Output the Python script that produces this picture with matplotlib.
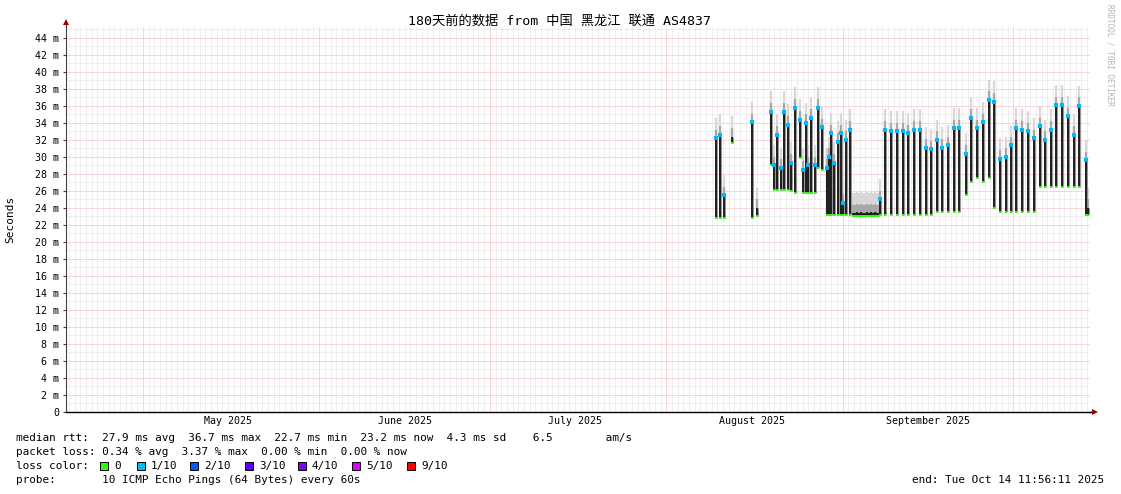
import matplotlib
matplotlib.use("Agg")
import matplotlib.pyplot as plt
import matplotlib.dates as mdates
import matplotlib.transforms as mtransforms
from matplotlib.patches import Rectangle
from datetime import datetime, timedelta

W, H = 1121, 494
MONO = ["DejaVu Sans Mono", "Noto Sans CJK SC"]

title = "180天前的数据 from 中国 黑龙江 联通 AS4837"
start = datetime(2025, 4, 17, 11, 56, 11)
end = datetime(2025, 10, 14, 11, 56, 11)
aug1 = datetime(2025, 8, 1)

# daily swings of the median rtt: days after Aug 1, high and low (ms)
bar_day = [8.8, 9.5, 10.2, 11.6, 15.1, 16.0,
           18.5, 19.0, 19.5, 20.2, 20.7, 21.4, 22.0, 22.7, 23.6, 24.1, 24.6, 25.0,
           25.5, 26.2, 26.7, 27.4, 28.3, 28.6, 29.0, 29.5, 30.2, 30.8, 31.1, 31.6, 32.3,
           32.75, 33.0, 33.25, 33.5, 33.75, 34.0, 34.25, 34.5, 34.75, 35.0, 35.25,
           35.5, 35.75, 36.0, 36.25, 36.5, 36.75, 37.0, 37.25, 37.5,
           38.5, 39.5, 40.6, 41.6, 42.5, 43.6, 44.6, 45.7, 46.6, 47.6, 48.5, 49.6,
           50.6, 51.5, 52.7, 53.6, 54.7, 55.7, 56.8, 57.6, 58.7, 59.8, 60.6, 61.5,
           62.6, 63.6, 64.7, 65.7, 66.6, 67.7, 68.5, 69.6, 70.7, 71.7, 72.6, 73.8, 74.2]
bar_hi = [32.2, 32.6, 25.5, 32.4, 34.1, 24.0,
          35.3, 29.0, 32.6, 28.7, 35.3, 33.8, 29.3, 35.8, 34.4, 28.5, 34.0, 29.0,
          34.6, 29.0, 35.8, 33.5, 28.7, 30.0, 32.8, 29.3, 31.8, 32.8, 24.6, 32.0, 33.2,
          23.4, 23.4, 23.4, 23.5, 23.4, 23.4, 23.5, 23.4, 23.4, 23.4, 23.5,
          23.4, 23.4, 23.5, 23.4, 23.4, 23.5, 23.4, 23.4, 25.0,
          33.2, 33.0, 33.0, 33.0, 32.8, 33.2, 33.2, 31.1, 30.9, 32.0, 31.1, 31.4,
          33.4, 33.4, 30.4, 34.6, 33.4, 34.1, 36.7, 36.5, 29.8, 30.0, 31.4, 33.4,
          33.2, 33.0, 32.2, 33.6, 32.0, 33.2, 36.1, 36.1, 34.8, 32.6, 36.0, 29.6, 24.0]
bar_lo = [22.8, 22.8, 22.8, 31.6, 22.8, 23.0,
          29.0, 26.1, 26.1, 26.1, 26.1, 26.1, 26.0, 25.8, 29.9, 25.8, 25.8, 25.8,
          25.8, 25.8, 28.7, 28.5, 23.2, 23.2, 23.2, 23.2, 23.2, 23.2, 23.2, 23.2, 23.2,
          23.1, 23.1, 23.1, 23.1, 23.1, 23.1, 23.1, 23.1, 23.1, 23.1, 23.1,
          23.1, 23.1, 23.1, 23.1, 23.1, 23.1, 23.1, 23.1, 23.2,
          23.2, 23.2, 23.2, 23.2, 23.2, 23.2, 23.2, 23.2, 23.2, 23.5, 23.5, 23.5,
          23.5, 23.5, 25.5, 27.0, 27.5, 27.0, 27.5, 24.0, 23.5, 23.5, 23.5, 23.5,
          23.5, 23.5, 23.5, 26.5, 26.5, 26.5, 26.5, 26.5, 26.5, 26.5, 26.5, 23.2, 23.2]

month_labels = ["May 2025", "June 2025", "July 2025", "August 2025", "September 2025"]
month_label_at = [datetime(2025, m, 16) for m in range(5, 10)]
y_ticks = list(range(0, 45, 2))
y_tick_labels = ["0"] + ["%d m" % v for v in y_ticks[1:]]

legend_lines = [
    "median rtt:  27.9 ms avg  36.7 ms max  22.7 ms min  23.2 ms now  4.3 ms sd    6.5        am/s",
    "packet loss: 0.34 % avg  3.37 % max  0.00 % min  0.00 % now",
    "loss color:",
    "probe:       10 ICMP Echo Pings (64 Bytes) every 60s",
]
loss_labels = ["0", "1/10", "2/10", "3/10", "4/10", "5/10", "9/10"]
loss_colors = ["#26ff00", "#00b8ff", "#0059ff", "#5e00ff", "#7e00ff", "#dd00ff", "#ff0000"]
end_text = "end: Tue Oct 14 11:56:11 2025"


def fx(x):
    return x / W


def fy(y):
    return 1 - y / H


fig = plt.figure(figsize=(W / 100, H / 100), dpi=100)
fig.patch.set_facecolor("white")
ax = fig.add_axes([fx(66), fy(412), (1090 - 66) / W, (412 - 26) / H])
ax.set_facecolor("white")

x = mdates.date2num([aug1 + timedelta(days=d) for d in bar_day])
hi = bar_hi
lo = bar_lo

# smoke
ax.vlines(x, hi, [h + 2.4 for h in hi], color="#d8d8d8", lw=1.6)
ax.vlines(x, hi, [h + 1.0 for h in hi], color="#a8a8a8", lw=1.6)
ax.vlines(x, lo, hi, color="#8c8c8c", lw=2.0)
# median, tops coloured 1/10 only where there is a real swing
ax.vlines(x, lo, hi, color="#161616", lw=1.3)
top_x = [xi for xi, h, l in zip(x, hi, lo) if h - l > 1]
top_y = [h for h, l in zip(hi, lo) if h - l > 1]
ax.plot(top_x, top_y, "s", ms=2.2, color=loss_colors[1], mew=0)
ax.plot(x, lo, "s", ms=2.0, color=loss_colors[0], mew=0)

ax.set_xlim(mdates.date2num(start), mdates.date2num(end))
ax.set_ylim(0, 45.4)

ax.xaxis.set_major_locator(mdates.MonthLocator())
ax.xaxis.set_minor_locator(mdates.DayLocator())
ax.xaxis.set_major_formatter(plt.NullFormatter())
ax.set_yticks(y_ticks)
ax.set_yticklabels(y_tick_labels, family=MONO, fontsize=7.2)
ax.set_yticks(range(0, 46), minor=True)
ax.tick_params(axis="x", which="both", length=0)
ax.tick_params(axis="y", which="major", length=2.2, width=0.8, color="#404040", pad=2.5)
ax.tick_params(axis="y", which="minor", length=0)

ax.set_axisbelow(True)
ax.grid(which="minor", color="#e0e0e0", ls=(0, (1, 1)), lw=0.72)
ax.grid(which="major", color="#f4b0b0", ls=(0, (1, 1)), lw=0.72)

for s in ["top", "right"]:
    ax.spines[s].set_visible(False)
ax.spines["left"].set_color("#404040")
ax.spines["left"].set_linewidth(0.8)
ax.spines["bottom"].set_color("black")
ax.spines["bottom"].set_linewidth(1.0)

# axis arrows
ax.plot([0, 0], [1, 1.01], color="#404040", lw=0.8, transform=ax.transAxes, clip_on=False)
ax.plot([0], [1.01], marker="^", ms=4.5, color="#a00000", mew=0, transform=ax.transAxes, clip_on=False)
ax.plot([1, 1.004], [0, 0], color="black", lw=1.0, transform=ax.transAxes, clip_on=False)
ax.plot([1.005], [0], marker=">", ms=4.5, color="#a00000", mew=0, transform=ax.transAxes, clip_on=False)

trans = mtransforms.blended_transform_factory(ax.transData, ax.transAxes)
for lab, d in zip(month_labels, month_label_at):
    ax.text(mdates.date2num(d), -9 / 386, lab, transform=trans, ha="center", va="center",
            family=MONO, fontsize=7.2)

fig.text(fx(560), fy(21), title, ha="center", va="center", family=MONO, fontsize=9.5)
fig.text(fx(10), fy(219), "Seconds", rotation=90, ha="center", va="center", family=MONO, fontsize=8)
fig.text(fx(1110), fy(4), "RRDTOOL / TOBI OETIKER", rotation=270, ha="center", va="top",
         family=MONO, fontsize=5.6, color="#b4b4b4")

for i, line in enumerate(legend_lines):
    fig.text(fx(16), fy(438 + 14 * i), line, ha="left", va="center", family=MONO, fontsize=7.9)

sq_x = [100, 137, 190, 245, 298, 352, 407]
for sx, lab, col in zip(sq_x, loss_labels, loss_colors):
    fig.add_artist(Rectangle((fx(sx), fy(470)), 8 / W, 8 / H, transform=fig.transFigure,
                             facecolor=col, edgecolor="black", lw=0.7))
    fig.text(fx(sx + 14), fy(466), lab, ha="left", va="center", family=MONO, fontsize=7.9)

fig.text(fx(1104), fy(480), end_text, ha="right", va="center", family=MONO, fontsize=7.9)

fig.savefig("out.png", dpi=100, facecolor="white")
